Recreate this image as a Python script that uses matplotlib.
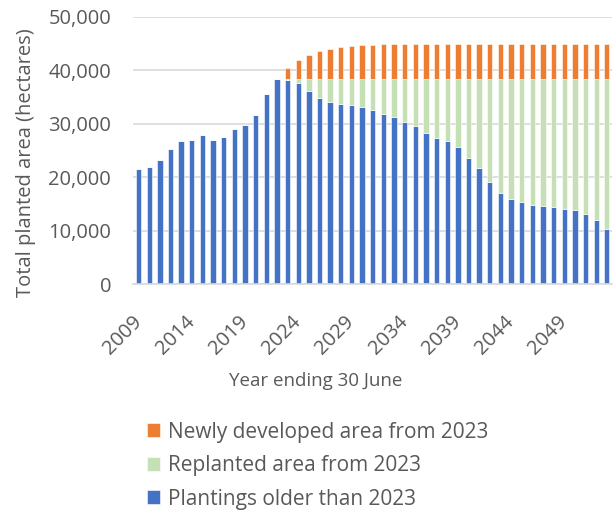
import matplotlib.pyplot as plt
from matplotlib.ticker import FuncFormatter
import numpy as np

plt.rcParams['font.family'] = ['Open Sans', 'DejaVu Sans']

# Planted area by year ending 30 June (hectares)
years = list(range(2009, 2054))

older_plantings = [
    21500, 22000, 23300, 25300, 26850, 27050, 27850, 26900, 27600, 28950,
    29700, 31600, 35500, 38300, 38150, 37650, 36100, 34900, 34100, 33650,
    33450, 33100, 32600, 31900, 31200, 30250, 29550, 28200, 27300, 26700,
    25600, 23600, 21700, 19100, 17100, 15900, 15300, 14900, 14650, 14450,
    14150, 13850, 13150, 11950, 10350,
]

replanted = [
    0, 0, 0, 0, 0, 0, 0, 0, 0, 0,
    0, 0, 0, 0, 250, 750, 2300, 3500, 4300, 4750,
    4950, 5300, 5800, 6500, 7200, 8150, 8850, 10200, 11100, 11700,
    12800, 14800, 16700, 19300, 21300, 22500, 23100, 23500, 23750, 23950,
    24250, 24550, 25250, 26450, 28050,
]

newly_developed = [
    0, 0, 0, 0, 0, 0, 0, 0, 0, 0,
    0, 0, 0, 0, 2100, 3500, 4500, 5200, 5650, 6000,
    6200, 6300, 6400, 6450, 6450, 6500, 6500, 6500, 6500, 6500,
    6500, 6550, 6550, 6550, 6550, 6550, 6550, 6550, 6550, 6550,
    6550, 6550, 6550, 6550, 6550,
]

tick_years = [2009, 2014, 2019, 2024, 2029, 2034, 2039, 2044, 2049]

BLUE = '#4472C4'
GREEN = '#C5E0B4'
ORANGE = '#ED7D31'
TEXT = '#595959'
GRID = '#D9D9D9'

fig = plt.figure(figsize=(6.14, 5.12), dpi=100)
ax = fig.add_axes([0.217, 0.445, 0.78, 0.522])

x = np.arange(len(years))
older = np.array(older_plantings)
repl = np.array(replanted)
new = np.array(newly_developed)

w = 0.5
b_old = ax.bar(x, older, width=w, color=BLUE, edgecolor='white', linewidth=0.4)
b_rep = ax.bar(x, repl, width=w, bottom=older, color=GREEN,
               edgecolor='white', linewidth=0.4)
b_new = ax.bar(x, new, width=w, bottom=older + repl, color=ORANGE,
               edgecolor='white', linewidth=0.4)

ax.set_xlim(-0.5, len(years) - 0.5)
ax.set_ylim(0, 50000)
ax.set_yticks(range(0, 50001, 10000))
ax.yaxis.set_major_formatter(FuncFormatter(lambda v, p: f'{int(v):,}'))
ax.grid(axis='y', color=GRID, linewidth=1.2)
ax.set_axisbelow(True)

for s in ['top', 'right', 'left']:
    ax.spines[s].set_visible(False)
ax.spines['bottom'].set_color(GRID)
ax.spines['bottom'].set_linewidth(1.2)

ax.set_xticks([years.index(y) for y in tick_years])
ax.set_xticklabels([str(y) for y in tick_years], rotation=45, ha='right',
                   va='center', rotation_mode='anchor')
ax.tick_params(axis='x', length=0, pad=25, labelsize=14.5, labelcolor=TEXT)
ax.tick_params(axis='y', length=0, pad=16, labelsize=14.5, labelcolor=TEXT)

# axis titles
fig.text(26 / 614, 1 - 163 / 512, 'Total planted area (hectares)',
         fontsize=14.5, color=TEXT, rotation=90, ha='center', va='center')
fig.text(316 / 614, 1 - 381 / 512, 'Year ending 30 June', fontsize=13.5,
         color=TEXT, ha='center', va='center')

fig.legend([b_new, b_rep, b_old],
           ['Newly developed area from 2023', 'Replanted area from 2023',
            'Plantings older than 2023'],
           loc='upper left', bbox_to_anchor=(128 / 614, 1 - 403 / 512),
           frameon=False, fontsize=15, labelcolor=TEXT,
           handlelength=0.65, handleheight=0.65, handletextpad=0.35,
           labelspacing=0.6)

fig.savefig('out.png', dpi=100)
